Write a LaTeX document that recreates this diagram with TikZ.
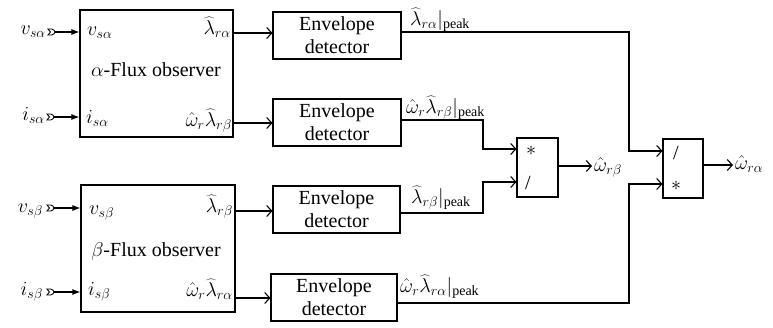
\RequirePackage{fix-cm}
\documentclass[tikz,border=0pt]{standalone}
\usepackage{fontspec}
\setmainfont{Liberation Serif}
\usetikzlibrary{arrows.meta}
\begin{document}
\begin{tikzpicture}[x=1pt,y=-1pt,
  every node/.style={font=\fontsize{20}{23}\selectfont, inner sep=0pt},
  blk/.style={draw, line width=1.1pt, inner sep=0pt},
  envbox/.style={blk, minimum width=128pt, minimum height=47pt, align=center},
  wire/.style={line width=1.1pt},
  oarr/.style={wire, -{Straight Barb[length=5pt,width=11pt,line width=1.1pt]}},
  farr/.style={wire, -{Latex[length=8pt,width=6pt]}},
  inport/.pic={\draw[line width=0.9pt] (-7,-3) -- (-3.5,-3) .. controls (-1.5,-3) and (0,-1) .. (0,0) .. controls (0,1) and (-1.5,3) .. (-3.5,3) -- (-7,3) -- (-4.5,0) -- cycle;}
]
\useasboundingbox (0,0) rectangle (773,327);

% observer blocks
\node[blk, minimum width=153pt, minimum height=127pt] (ao) at (156.5,73.5) {};
\node[blk, minimum width=154pt, minimum height=127pt] (bo) at (158,248.5) {};
\node[anchor=base] (aot) at (156,76) {$\alpha$-Flux observer};
\node[anchor=base] (bot) at (156,256) {$\beta$-Flux observer};

% internal port labels
\node[anchor=base west] (avi) at (87,35) {$v_{s\alpha}$};
\node[anchor=base west] (aii) at (86,123) {$i_{s\alpha}$};
\node[anchor=base east] (ao1) at (231,34) {$\widehat{\lambda}_{r\alpha}$};
\node[anchor=base east] (ao2) at (232,126) {$\hat{\omega}_r\widehat{\lambda}_{r\beta}$};
\node[anchor=base west] (bvi) at (89,214) {$v_{s\beta}$};
\node[anchor=base west] (bii) at (88,295) {$i_{s\beta}$};
\node[anchor=base east] (bo1) at (233,212) {$\widehat{\lambda}_{r\beta}$};
\node[anchor=base east] (bo2) at (233,296) {$\hat{\omega}_r\widehat{\lambda}_{r\alpha}$};

% external inputs
\node[anchor=base east] (xva) at (46,34) {$v_{s\alpha}$};
\node[anchor=base east] (xia) at (45,120) {$i_{s\alpha}$};
\node[anchor=base east] (xvb) at (43,212) {$v_{s\beta}$};
\node[anchor=base east] (xib) at (43,295) {$i_{s\beta}$};
\coordinate (p1) at (55,32);
\coordinate (p2) at (54,117);
\coordinate (p3) at (54,208);
\coordinate (p4) at (54,292);
\pic at (p1) {inport};
\pic at (p2) {inport};
\pic at (p3) {inport};
\pic at (p4) {inport};
\draw[farr] (p1) -- (p1 -| ao.west);
\draw[farr] (p2) -- (p2 -| ao.west);
\draw[farr] (p3) -- (p3 -| bo.west);
\draw[farr] (p4) -- (p4 -| bo.west);

% envelope detectors
\node[envbox] (e1) at (337,35.5) {Envelope\\detector};
\node[envbox] (e2) at (337,122.5) {Envelope\\detector};
\node[envbox, minimum width=127pt] (e3) at (336.5,209.5) {Envelope\\detector};
\node[envbox, minimum width=126pt] (e4) at (334,297.5) {Envelope\\detector};

\coordinate (ao-o1) at (ao.east |- 0,33);
\coordinate (ao-o2) at (ao.east |- 0,123);
\coordinate (bo-o1) at (bo.east |- 0,211);
\coordinate (bo-o2) at (bo.east |- 0,298);
\draw[oarr] (ao-o1) -- (ao-o1 -| e1.west);
\draw[oarr] (ao-o2) -- (ao-o2 -| e2.west);
\draw[oarr] (bo-o1) -- (bo-o1 -| e3.west);
\draw[oarr] (bo-o2) -- (bo-o2 -| e4.west);

% envelope output labels
\node[anchor=base west] (l1) at (410,25) {$\widehat{\lambda}_{r\alpha}|_{\mathrm{peak}}$};
\node[anchor=base west] (l2) at (406,113) {$\hat{\omega}_r\widehat{\lambda}_{r\beta}|_{\mathrm{peak}}$};
\node[anchor=base west] (l3) at (411,203) {$\widehat{\lambda}_{r\beta}|_{\mathrm{peak}}$};
\node[anchor=base west] (l4) at (400,292) {$\hat{\omega}_r\widehat{\lambda}_{r\alpha}|_{\mathrm{peak}}$};

% multiplier / divider blocks
\node[blk, minimum width=41pt, minimum height=59pt] (m1) at (537.5,167.5) {};
\node[blk, minimum width=40pt, minimum height=59pt] (m2) at (683,168.5) {};
\node (m1a) at (531,151) {$*$};
\node (m1b) at (528,183) {/};
\node (m2a) at (676,153) {/};
\node (m2b) at (676,186) {$*$};

\coordinate (m1-i1) at (m1.west |- 0,149);
\coordinate (m1-i2) at (m1.west |- 0,182);
\coordinate (m2-i1) at (m2.west |- 0,151);
\coordinate (m2-i2) at (m2.west |- 0,184);
\coordinate (j1) at (629,32);
\coordinate (j2) at (483,120);
\coordinate (j3) at (483,213);
\coordinate (j4) at (629,303);
\draw[oarr] (e1.east |- j1) -- (j1) |- (m2-i1);
\draw[oarr] (e2.east |- j2) -- (j2) |- (m1-i1);
\draw[oarr] (e3.east |- j3) -- (j3) |- (m1-i2);
\draw[oarr] (e4.east |- j4) -- (j4) |- (m2-i2);

% outputs
\node[anchor=base west] (wrb) at (594,171) {$\hat{\omega}_{r\beta}$};
\node[anchor=base west] (wra) at (735,169) {$\hat{\omega}_{r\alpha}$};
\draw[oarr] (m1.east |- 0,166) -- (592,166);
\draw[oarr] (m2.east |- 0,165) -- (733,165);
\end{tikzpicture}
\end{document}
